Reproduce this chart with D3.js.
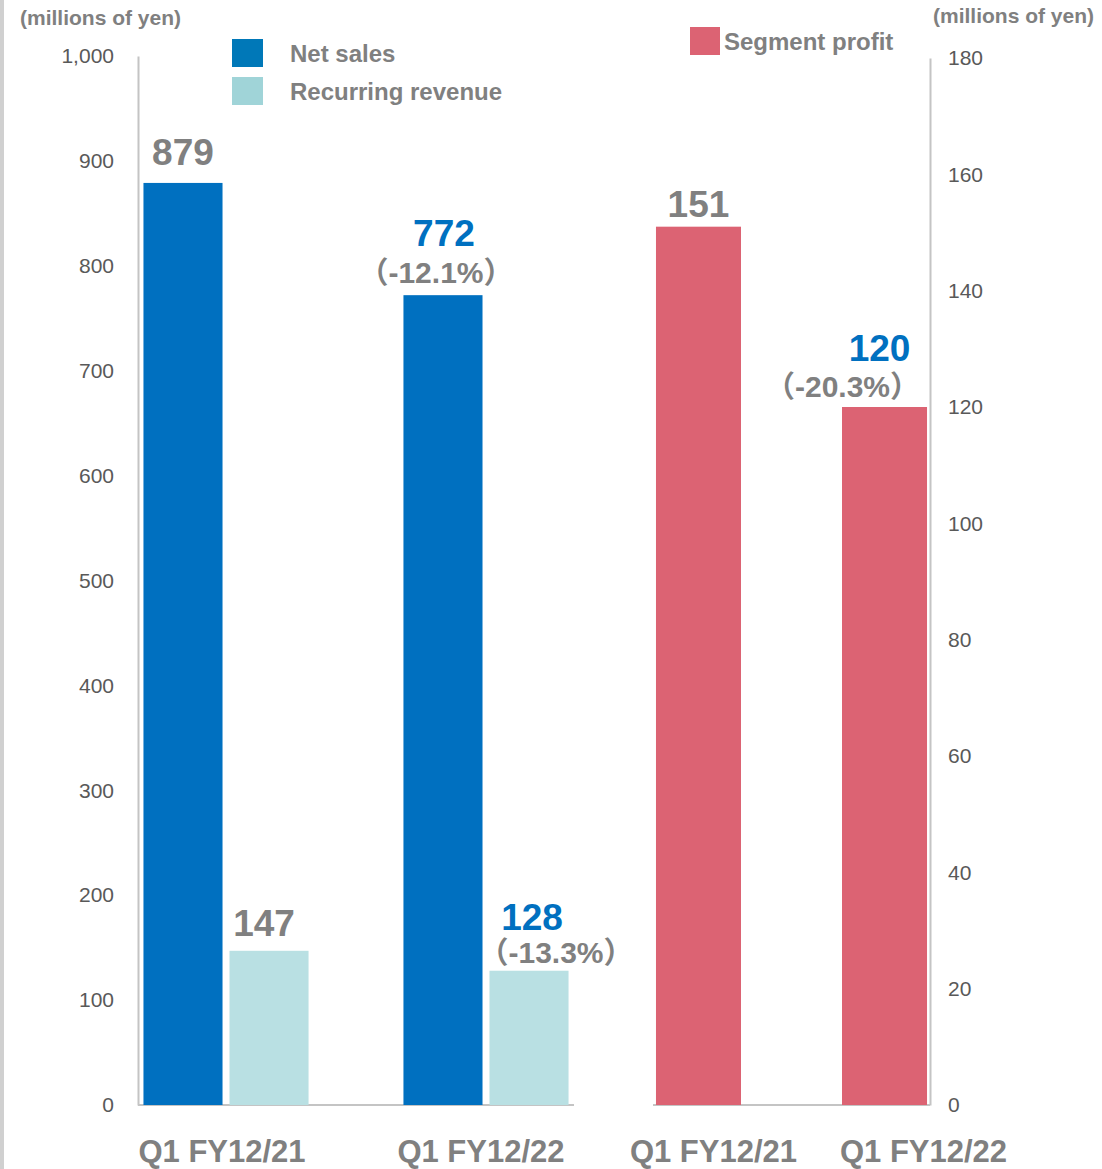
<!DOCTYPE html>
<html>
<head>
<meta charset="utf-8">
<script src="https://cdn.jsdelivr.net/npm/d3@7"></script>
<style>
  body { margin: 0; background: #fff; }
  svg { display: block; }
  text { font-family: "Liberation Sans", Arial, "Noto Sans CJK JP", sans-serif; }
  .tick text { fill: #595959; font-size: 21px; }
</style>
</head>
<body>
<svg id="chart" width="1102" height="1169"></svg>
<script>
// data
const periods = ["Q1 FY12/21", "Q1 FY12/22"]
const salesSeries = ["Net sales", "Recurring revenue"]
const netSales = [879, 772]
const recurring = [147, 128]
const segmentProfit = [151, 120]
const salesChange = [null, "\uFF08-12.1%\uFF09"]
const recurringChange = [null, "\uFF08-13.3%\uFF09"]
const profitChange = [null, "\uFF08-20.3%\uFF09"]
const leftTicks = [0, 100, 200, 300, 400, 500, 600, 700, 800, 900, 1000]
const rightTicks = [0, 20, 40, 60, 80, 100, 120, 140, 160, 180]

const colors = {
    "Net sales": "#0070C0",
    "Recurring revenue": "#B9E0E3",
    "Segment profit": "#DC6373"
}
const legendColors = {
    "Net sales": "#0078B8",
    "Recurring revenue": "#A0D4D8",
    "Segment profit": "#DC6373"
}
const gray = "#808080"
const axisGray = "#c4c4c4"

const svg = d3.select("#chart")

// thin border on the left edge
svg.append("rect").attr("x", 0).attr("y", 0).attr("width", 4).attr("height", 1169).attr("fill", "#d0d0d0")

const yLeft = d3.scaleLinear().domain([0, 1000]).range([1105, 56])
const yRight = d3.scaleLinear().domain([0, 180]).range([1105, 58])

const x0 = d3.scaleBand().domain(periods).range([138, 574]).paddingInner(0.365).paddingOuter(0.021)
const x1 = d3.scaleBand().domain(salesSeries).range([0, x0.bandwidth()]).paddingInner(0.081)
const x2 = d3.scaleBand().domain(periods).range([653, 930]).paddingInner(0.543).paddingOuter(0.016)

// axes
const leftAxis = svg.append("g")
    .attr("transform", "translate(138,0)")
    .call(d3.axisLeft(yLeft).tickValues(leftTicks).tickSize(0).tickPadding(24).tickFormat(d3.format(",")))
leftAxis.select(".domain").attr("stroke", axisGray).attr("stroke-width", 2)

const rightAxis = svg.append("g")
    .attr("transform", "translate(930,0)")
    .call(d3.axisRight(yRight).tickValues(rightTicks).tickSize(0).tickPadding(18))
rightAxis.select(".domain").attr("stroke", axisGray).attr("stroke-width", 2)

svg.selectAll(".tick text").attr("font-family", null)

// baselines
svg.append("line").attr("x1", 138).attr("x2", 574).attr("y1", yLeft(0)).attr("y2", yLeft(0))
    .attr("stroke", axisGray).attr("stroke-width", 2)
svg.append("line").attr("x1", 653).attr("x2", 930).attr("y1", yRight(0)).attr("y2", yRight(0))
    .attr("stroke", axisGray).attr("stroke-width", 2)

// axis titles
svg.append("text").attr("x", 20).attr("y", 25).text("(millions of yen)")
    .attr("fill", gray).attr("font-size", 21).attr("font-weight", "bold")
svg.append("text").attr("x", 1094).attr("y", 23).text("(millions of yen)")
    .attr("text-anchor", "end").attr("fill", gray).attr("font-size", 21).attr("font-weight", "bold")

// sales bars
const salesRows = periods.map((p, i) => ({period: p, i: i, values: [
    {key: "Net sales", value: netSales[i], change: salesChange[i]},
    {key: "Recurring revenue", value: recurring[i], change: recurringChange[i]}
]}))

const groups = svg.selectAll(".group").data(salesRows).join("g")
    .attr("class", "group")
    .attr("transform", d => `translate(${x0(d.period)},0)`)

groups.selectAll("rect").data(d => d.values).join("rect")
    .attr("x", d => x1(d.key))
    .attr("y", d => yLeft(d.value))
    .attr("width", x1.bandwidth())
    .attr("height", d => yLeft(0) - yLeft(d.value))
    .attr("fill", d => colors[d.key])

// value labels for sales bars
groups.each(function(row) {
    const g = d3.select(this)
    row.values.forEach(v => {
        const cx = x1(v.key) + x1.bandwidth() / 2
        const top = yLeft(v.value)
        const isNet = v.key === "Net sales"
        if (v.change) {
            g.append("text").attr("x", cx + (isNet ? 1 : 3)).attr("y", top - (isNet ? 49 : 41)).text(v.value)
                .attr("text-anchor", "middle").attr("fill", "#0070C0")
                .attr("font-size", 37).attr("font-weight", "bold")
            g.append("text").attr("x", cx + (isNet ? -7 : 27)).attr("y", top - (isNet ? 12 : 8)).text(v.change)
                .attr("text-anchor", "middle").attr("fill", gray)
                .attr("font-size", 30).attr("font-weight", "bold")
        } else {
            g.append("text").attr("x", cx + (isNet ? 0 : -5)).attr("y", top - (isNet ? 18 : 15)).text(v.value)
                .attr("text-anchor", "middle").attr("fill", gray)
                .attr("font-size", 37).attr("font-weight", "bold")
        }
    })
})

// segment profit bars
svg.selectAll(".profit").data(periods).join("rect")
    .attr("class", "profit")
    .attr("x", d => x2(d))
    .attr("y", (d, i) => yRight(segmentProfit[i]))
    .attr("width", x2.bandwidth())
    .attr("height", (d, i) => yRight(0) - yRight(segmentProfit[i]))
    .attr("fill", colors["Segment profit"])

periods.forEach((p, i) => {
    const cx = x2(p) + x2.bandwidth() / 2
    const top = yRight(segmentProfit[i])
    if (profitChange[i]) {
        svg.append("text").attr("x", cx - 5).attr("y", top - 46).text(segmentProfit[i])
            .attr("text-anchor", "middle").attr("fill", "#0070C0")
            .attr("font-size", 37).attr("font-weight", "bold")
        svg.append("text").attr("x", cx - 42).attr("y", top - 10).text(profitChange[i])
            .attr("text-anchor", "middle").attr("fill", gray)
            .attr("font-size", 30).attr("font-weight", "bold")
    } else {
        svg.append("text").attr("x", cx).attr("y", top - 10).text(segmentProfit[i])
            .attr("text-anchor", "middle").attr("fill", gray)
            .attr("font-size", 37).attr("font-weight", "bold")
    }
})

// category labels
const catOffsetLeft = [-4, -5]
const catOffsetRight = [15, 39]
periods.forEach((p, i) => {
    svg.append("text").attr("x", x0(p) + x0.bandwidth() / 2 + catOffsetLeft[i]).attr("y", 1162).text(p)
        .attr("text-anchor", "middle").attr("fill", gray).attr("font-size", 31).attr("font-weight", "bold")
    svg.append("text").attr("x", x2(p) + x2.bandwidth() / 2 + catOffsetRight[i]).attr("y", 1162).text(p)
        .attr("text-anchor", "middle").attr("fill", gray).attr("font-size", 31).attr("font-weight", "bold")
})

// legends
const legend = svg.append("g")
salesSeries.forEach((s, i) => {
    const y = 39 + i * 38
    legend.append("rect").attr("x", 232).attr("y", y).attr("width", 31).attr("height", 28)
        .attr("fill", legendColors[s])
    legend.append("text").attr("x", 290).attr("y", y + 23).text(s)
        .attr("fill", gray).attr("font-size", 24).attr("font-weight", "bold")
})
legend.append("rect").attr("x", 690).attr("y", 27).attr("width", 30).attr("height", 28)
    .attr("fill", legendColors["Segment profit"])
legend.append("text").attr("x", 724).attr("y", 50).text("Segment profit")
    .attr("fill", gray).attr("font-size", 24).attr("font-weight", "bold")
</script>
</body>
</html>
